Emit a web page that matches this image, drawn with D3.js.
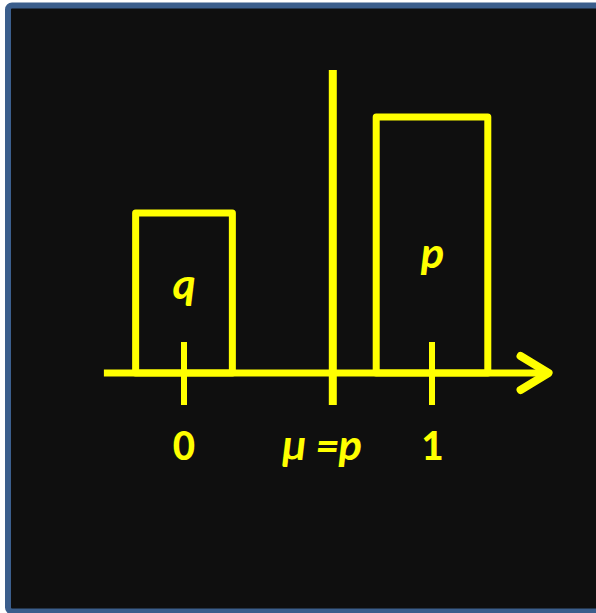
<!DOCTYPE html>
<html>
<head>
<meta charset="utf-8">
<script src="https://cdn.jsdelivr.net/npm/d3@7"></script>
<style>
    body { margin: 0; background: #ffffff; }
    svg { display: block; }
    .lbl { font-family: Carlito, Lato, "Open Sans", sans-serif; font-weight: bold; fill: #ffff00; }
</style>
</head>
<body>
<svg id="chart" width="596" height="613"></svg>
<script>
// outcomes of the variable and the bar drawn at each one
const outcomes = [0, 1];
const barLabels = ["q", "p"];
const barHeights = [0.375, 0.6];
const barWidths = [0.39, 0.45];

// mean line and axis labels
const meanValue = 0.6;
const meanTop = 0.71;
const tickValues = [0, 1];
const tickLabels = ["0", "1"];
const meanLabel = "μ =p";
const axisRange = [-0.323, 1.47];

const yellow = "#ffff00";
const svg = d3.select("#chart");

// frame
svg.append("rect")
    .attr("x", 8)
    .attr("y", 5.5)
    .attr("width", 620)
    .attr("height", 606)
    .attr("rx", 4)
    .attr("fill", "#0f0f0f")
    .attr("stroke", "#3b5e8c")
    .attr("stroke-width", 6);

const x = d3.scaleLinear().domain([0, 1]).range([184, 432]);
const y = d3.scaleLinear().domain([0, 0.6]).range([373, 117]);

// bars
svg.selectAll(".bar")
    .data(outcomes)
    .enter()
    .append("rect")
    .attr("class", "bar")
    .attr("x", function(d, i) { return x(d - barWidths[i] / 2); })
    .attr("y", function(d, i) { return y(barHeights[i]); })
    .attr("width", function(d, i) { return x(barWidths[i]) - x(0); })
    .attr("height", function(d, i) { return y(0) - y(barHeights[i]); })
    .attr("fill", "none")
    .attr("stroke", yellow)
    .attr("stroke-width", 7)
    .attr("stroke-linejoin", "round");

// axis line with arrow
svg.append("line")
    .attr("x1", x(axisRange[0]))
    .attr("x2", x(axisRange[1]))
    .attr("y1", y(0))
    .attr("y2", y(0))
    .attr("stroke", yellow)
    .attr("stroke-width", 7);

svg.append("polyline")
    .attr("points", [
        [x(axisRange[1]) - 28, y(0) - 17],
        [x(axisRange[1]), y(0)],
        [x(axisRange[1]) - 28, y(0) + 17]
    ].map(function(p) { return p.join(","); }).join(" "))
    .attr("fill", "none")
    .attr("stroke", yellow)
    .attr("stroke-width", 8)
    .attr("stroke-linecap", "round")
    .attr("stroke-linejoin", "round");

// ticks
svg.selectAll(".tick")
    .data(tickValues)
    .enter()
    .append("line")
    .attr("class", "tick")
    .attr("x1", function(d) { return x(d); })
    .attr("x2", function(d) { return x(d); })
    .attr("y1", y(0) - 31)
    .attr("y2", y(0) + 32)
    .attr("stroke", yellow)
    .attr("stroke-width", 6);

// mean line
svg.append("line")
    .attr("x1", x(meanValue))
    .attr("x2", x(meanValue))
    .attr("y1", y(meanTop))
    .attr("y2", y(0) + 32)
    .attr("stroke", yellow)
    .attr("stroke-width", 8);

// tick labels
svg.selectAll(".tick-label")
    .data(tickValues)
    .enter()
    .append("text")
    .attr("class", "lbl tick-label")
    .attr("x", function(d) { return x(d); })
    .attr("y", 460)
    .attr("text-anchor", "middle")
    .attr("font-size", 44)
    .text(function(d, i) { return tickLabels[i]; });

svg.append("text")
    .attr("class", "lbl")
    .attr("x", x(meanValue) - 11)
    .attr("y", 460)
    .attr("text-anchor", "middle")
    .attr("font-size", 44)
    .attr("font-style", "italic")
    .text(meanLabel);

// bar labels
svg.selectAll(".bar-label")
    .data(outcomes)
    .enter()
    .append("text")
    .attr("class", "lbl bar-label")
    .attr("x", function(d) { return x(d); })
    .attr("y", function(d, i) { return i === 0 ? 299 : 268; })
    .attr("text-anchor", "middle")
    .attr("font-size", 44)
    .attr("font-style", "italic")
    .text(function(d, i) { return barLabels[i]; });
</script>
</body>
</html>
